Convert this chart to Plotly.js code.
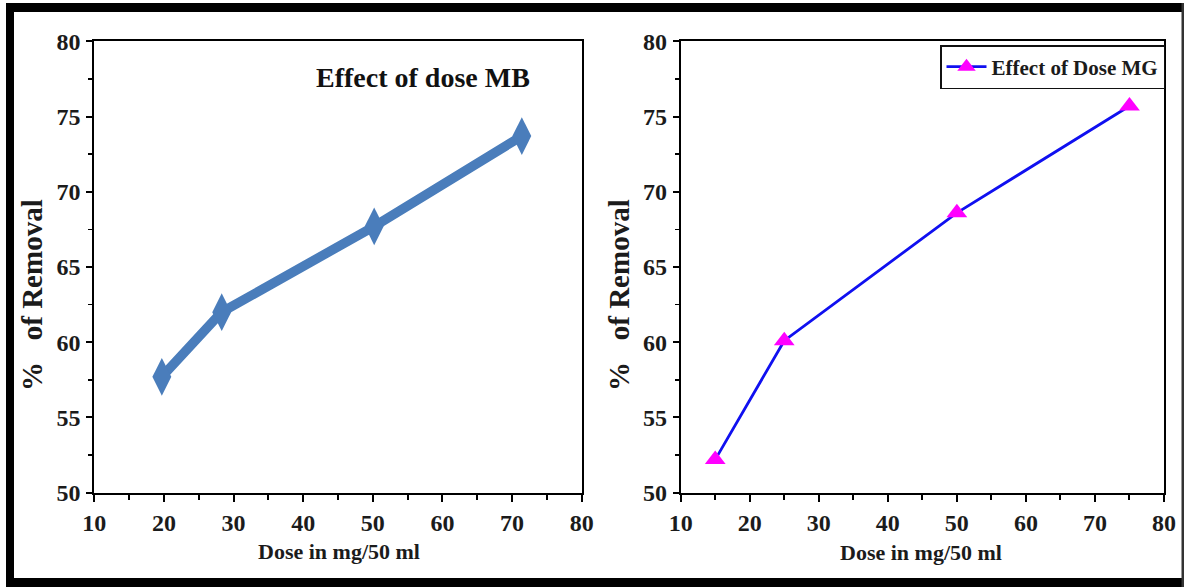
<!DOCTYPE html>
<html>
<head>
<meta charset="utf-8">
<script src="https://cdn.plot.ly/plotly-3.0.1.min.js"></script>
<style>
  html, body { margin: 0; padding: 0; background: #fff; }
  #chart { width: 1187px; height: 587px; }
</style>
</head>
<body>
<div id="chart"></div>
<script>
// Methylene blue (MB): dose vs. percent removal
const mbDose = [19.7, 28.3, 50.2, 71.4];
const mbRemoval = [57.7, 62.0, 67.7, 73.7];

// Malachite green (MG): dose vs. percent removal
const mgDose = [15, 25, 50, 75];
const mgRemoval = [52.2, 60.1, 68.6, 75.7];

const xTickVals = [10, 20, 30, 40, 50, 60, 70, 80];
const yTickVals = [50, 55, 60, 65, 70, 75, 80];

const W = 1187, H = 587;
const px = v => v / W;          // horizontal pixel -> paper
const py = v => (H - v) / H;    // vertical pixel (from top) -> paper

const serif = 'Liberation Serif, Times New Roman, serif';
const tickFont = { family: serif, size: 24, color: '#1b1b1b', weight: 'bold' };
const bold = v => '<b>' + v + '</b>';

function xAxis(domain, anchor) {
  return {
    domain: domain, anchor: anchor, range: [10, 80],
    tickvals: xTickVals, ticktext: xTickVals.map(bold),
    ticks: 'outside', ticklen: 7, tickwidth: 2, tickcolor: '#000',
    minor: { dtick: 5, tick0: 10, ticks: 'outside', ticklen: 5, tickwidth: 2, tickcolor: '#000' },
    showline: true, linecolor: '#000', linewidth: 2, mirror: true,
    showgrid: false, zeroline: false, tickfont: tickFont, ticklabelstandoff: 0
  };
}
function yAxis(domain, anchor) {
  return {
    domain: domain, anchor: anchor, range: [50, 80],
    tickvals: yTickVals, ticktext: yTickVals.map(bold),
    ticks: 'outside', ticklen: 6, tickwidth: 2, tickcolor: '#000',
    minor: { dtick: 2.5, tick0: 50, ticks: 'outside', ticklen: 4, tickwidth: 1.5, tickcolor: '#000' },
    showline: true, linecolor: '#000', linewidth: 2, mirror: true,
    showgrid: false, zeroline: false, tickfont: tickFont, ticklabelstandoff: 1
  };
}

const yDom = [py(492.7), py(41.3)];

const traces = [
  {
    x: mbDose, y: mbRemoval, xaxis: 'x', yaxis: 'y',
    type: 'scatter', mode: 'lines+markers', name: 'Effect of dose MB',
    showlegend: false,
    line: { color: '#4a7dbb', width: 9.5 },
    marker: { symbol: 'diamond-tall', size: 27, color: '#4a7dbb' }
  },
  {
    x: mgDose, y: mgRemoval, xaxis: 'x2', yaxis: 'y2',
    type: 'scatter', mode: 'lines+markers', name: 'Effect of Dose MG',
    line: { color: '#1010f0', width: 2.8 },
    marker: { symbol: 'triangle-up', size: 18, color: '#ff00ff' }
  }
];

const labelFont = { family: serif, size: 22, color: '#1b1b1b', weight: 'bold' };
const yTitleFont = { family: serif, size: 29, color: '#1b1b1b', weight: 'bold' };

const layout = {
  width: W, height: H,
  margin: { l: 0, r: 0, t: 0, b: 0 },
  paper_bgcolor: '#fff', plot_bgcolor: '#fff',
  xaxis: xAxis([px(94.3), px(581.7)], 'y'),
  yaxis: yAxis(yDom, 'x'),
  xaxis2: xAxis([px(680.7), px(1164)], 'y2'),
  yaxis2: yAxis(yDom, 'x2'),
  legend: {
    x: px(1165), xanchor: 'right', y: py(45), yanchor: 'top',
    bgcolor: '#fff', bordercolor: '#111', borderwidth: 1.5,
    font: { family: serif, size: 21, color: '#1b1b1b', weight: 'bold' },
    itemwidth: 40, tracegroupgap: 0
  },
  annotations: [
    { text: 'Effect of dose MB', xref: 'paper', yref: 'paper', x: px(423), y: py(77),
      xanchor: 'center', yanchor: 'middle', showarrow: false,
      font: { family: serif, size: 28, color: '#111', weight: 'bold' } },
    { text: 'Dose in mg/50 ml', xref: 'paper', yref: 'paper', x: px(339), y: py(551),
      xanchor: 'center', yanchor: 'middle', showarrow: false, font: labelFont },
    { text: 'Dose in mg/50 ml', xref: 'paper', yref: 'paper', x: px(921), y: py(552),
      xanchor: 'center', yanchor: 'middle', showarrow: false, font: labelFont },
    { text: '%\u00a0\u00a0\u00a0of Removal', xref: 'paper', yref: 'paper', x: px(32), y: py(295),
      xanchor: 'center', yanchor: 'middle', textangle: -90, showarrow: false, font: yTitleFont },
    { text: '%\u00a0\u00a0\u00a0of Removal', xref: 'paper', yref: 'paper', x: px(619), y: py(295),
      xanchor: 'center', yanchor: 'middle', textangle: -90, showarrow: false, font: yTitleFont }
  ],
  shapes: [
    // surrounding frame
    { type: 'rect', xref: 'paper', yref: 'paper', x0: px(6), x1: px(14), y0: py(587), y1: py(3),
      fillcolor: '#000', line: { width: 0 }, layer: 'above' },
    { type: 'rect', xref: 'paper', yref: 'paper', x0: px(6), x1: px(1184), y0: py(12), y1: py(3),
      fillcolor: '#000', line: { width: 0 }, layer: 'above' },
    { type: 'rect', xref: 'paper', yref: 'paper', x0: px(6), x1: px(1184), y0: py(587), y1: py(578),
      fillcolor: '#000', line: { width: 0 }, layer: 'above' },
    { type: 'rect', xref: 'paper', yref: 'paper', x0: px(1181.5), x1: px(1184), y0: py(587), y1: py(3),
      fillcolor: '#333', line: { width: 0 }, layer: 'above' }
  ]
};

Plotly.newPlot('chart', traces, layout, { displayModeBar: false, staticPlot: true });
</script>
</body>
</html>
